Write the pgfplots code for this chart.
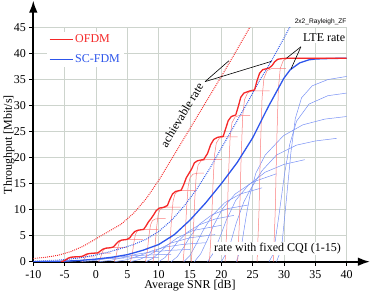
\documentclass[border=0pt]{standalone}
\usepackage{fontspec}
\setmainfont{Liberation Serif}
\newfontfamily\titlefont{Liberation Sans}
\usepackage{pgfplots}
\pgfplotsset{compat=1.18}
\usetikzlibrary{arrows.meta}
\definecolor{ofdm}{RGB}{245,40,40}
\definecolor{ofdmthin}{RGB}{250,125,125}
\definecolor{scfdm}{RGB}{45,85,235}
\definecolor{scthin}{RGB}{120,145,245}
\definecolor{gridc}{RGB}{205,212,205}
\newcommand{\fs}{\fontsize{12}{14.4}\selectfont}
\begin{document}
\begin{tikzpicture}
\useasboundingbox (-33.3pt,-30.3pt) rectangle (340.7pt,261.7pt);
\begin{axis}[
  at={(0pt,0pt)}, anchor=south west,
  scale only axis, width=313.4pt, height=234.2pt,
  xmin=-10, xmax=40, ymin=0, ymax=45,
  axis lines=left,
  axis line style={line width=1.8pt, -{Latex[length=12pt,width=8.5pt]}},
  x axis line style={shorten >=-23.3pt},
  y axis line style={shorten >=-27pt},
  xtick={-10,-5,...,40}, ytick={0,5,...,45},
  grid=major, grid style={line width=0.8pt, gridc},
  tick align=outside, major tick length=4pt,
  tick style={black, line width=1pt},
  tick label style={font=\fs},
  xticklabel style={yshift=-1.5pt},
  /pgf/number format/assume math mode=true,
  every axis x label/.style={at={(axis description cs:0.5,-0.1016)}, anchor=center, font=\fs},
  every axis y label/.style={at={(axis description cs:-0.0775,0.5)}, rotate=90, anchor=center, font=\fs},
  xlabel={Average SNR [dB]}, ylabel={Throughput [Mbit/s]},
  legend cell align=left,
  legend image code/.code={\draw[#1] (0pt,0pt) -- (23pt,0pt);},
  legend style={draw=none, fill=white, at={(axis cs:-7.8,44.2)}, anchor=north west, font=\fs, inner xsep=2pt, inner ysep=1pt, row sep=6pt},
]
\addlegendimage{ofdm, line width=0.9pt}
\addlegendentry{\textcolor{ofdm}{OFDM}}
\addlegendimage{scfdm, line width=0.9pt}
\addlegendentry{\textcolor{scfdm}{SC-FDM}}

% SC-FDM fixed CQI curves
\addplot[scthin, line width=0.5pt, forget plot] coordinates {(-5.5,0) (-3.5,0.15) (-1.5,0.35) (1,0.55) (4,0.7) (7,0.78) (10,0.82)};
\addplot[scthin, line width=0.5pt, forget plot] coordinates {(-2.5,0) (-0.5,0.2) (1.5,0.55) (3.5,0.9) (6,1.15) (9,1.32) (12,1.42)};
\addplot[scthin, line width=0.5pt, forget plot] coordinates {(0.5,0) (2.5,0.3) (4.5,0.85) (6.5,1.45) (9,1.9) (12,2.2) (15,2.35)};
\addplot[scthin, line width=0.5pt, forget plot] coordinates {(3,0) (5,0.4) (7,1.2) (9,2.1) (11,2.8) (14,3.35) (17.5,3.65)};
\addplot[scthin, line width=0.5pt, forget plot] coordinates {(5.5,0) (7,0.45) (8.5,1.3) (10,2.4) (12,3.6) (15,4.6) (19,5.2)};
\addplot[scthin, line width=0.5pt, forget plot] coordinates {(8,0) (9,0.6) (10,1.6) (11.2,3.0) (13,4.6) (15.5,6.0) (20,7.0)};
\addplot[scthin, line width=0.5pt, forget plot] coordinates {(10,0) (11,0.8) (12,2.2) (13,3.8) (14.5,5.6) (16.5,7.1) (19,8.2) (22,8.9)};
\addplot[scthin, line width=0.5pt, forget plot] coordinates {(12,0) (13,1) (14,2.8) (15,4.8) (16.5,7.2) (18.5,9.0) (21,10.2) (24.3,10.9)};
\addplot[scthin, line width=0.5pt, forget plot] coordinates {(14,0) (15,1.2) (16,3.4) (17,5.8) (18.5,8.8) (20.5,11.3) (23,13.0) (26.5,14.2)};
\addplot[scthin, line width=0.5pt, forget plot] coordinates {(15.7,0) (16.7,1.5) (17.7,4.0) (18.7,6.8) (20.2,10.2) (22.2,13) (25,15.3) (28.8,16.9)};
\addplot[scthin, line width=0.5pt, forget plot] coordinates {(17.8,0) (18.8,1.8) (19.8,4.8) (20.8,8) (22.3,11.8) (24.3,14.7) (27,17.2) (30,18.7) (33.3,19.6)};
\addplot[scthin, line width=0.5pt, forget plot] coordinates {(20,0) (21.2,2.5) (22.4,7.5) (23.6,11.5) (24.6,13.8) (26.5,17.5) (28.8,20.5) (32,22.4) (35,23.2) (38.4,23.7)};
\addplot[scthin, line width=0.5pt, forget plot] coordinates {(22.4,0) (23.2,3) (24,9) (24.6,13) (25.5,17) (27,20.5) (29.9,24.2) (33,26.3) (36.5,27.4) (40,27.9)};
\addplot[scthin, line width=0.5pt, forget plot] coordinates {(27.6,0) (28.3,1.5) (29.2,9) (30.1,17) (30.9,22.5) (32,27) (34,30.3) (37,31.9) (40,32.4)};
\addplot[scthin, line width=0.5pt, forget plot] coordinates {(28.8,0) (29.6,2.5) (30.3,11) (31.1,21) (31.8,27.5) (32.8,31.5) (34.5,33.8) (37,35) (40,35.6)};

% OFDM fixed CQI curves
\addplot[ofdmthin, line width=0.5pt, forget plot] coordinates {(-5.2,0) (-4.9,0.24) (-4.65,0.57) (-4.4,0.81) (-4.1,0.9) (-3.6,0.94) (-2.9,0.95) (-0.2,0.95)};
\addplot[ofdmthin, line width=0.5pt, forget plot] coordinates {(-2.2,0) (-1.9,0.41) (-1.65,0.99) (-1.4,1.4) (-1.1,1.57) (-0.6,1.63) (0.1,1.65) (2.4,1.65)};
\addplot[ofdmthin, line width=0.5pt, forget plot] coordinates {(0.4,0) (0.7,0.68) (0.95,1.62) (1.2,2.3) (1.5,2.57) (2.0,2.67) (2.7,2.7) (4.9,2.7)};
\addplot[ofdmthin, line width=0.5pt, forget plot] coordinates {(2.9,0) (3.2,1.08) (3.45,2.58) (3.7,3.66) (4.0,4.09) (4.5,4.26) (5.2,4.3) (7.5,4.3)};
\addplot[ofdmthin, line width=0.5pt, forget plot] coordinates {(5.5,0) (5.8,1.55) (6.05,3.72) (6.3,5.27) (6.6,5.89) (7.1,6.14) (7.8,6.2) (9.9,6.2)};
\addplot[ofdmthin, line width=0.5pt, forget plot] coordinates {(7.9,0) (8.2,2.08) (8.45,4.98) (8.7,7.06) (9.0,7.89) (9.5,8.22) (10.2,8.3) (11.1,8.3)};
\addplot[ofdmthin, line width=0.5pt, forget plot] coordinates {(9.1,0) (9.4,2.63) (9.65,6.3) (9.9,8.93) (10.2,9.98) (10.7,10.4) (11.4,10.5) (13.5,10.5)};
\addplot[ofdmthin, line width=0.5pt, forget plot] coordinates {(11.5,0) (11.8,3.43) (12.05,8.22) (12.3,11.65) (12.6,13.0) (13.1,13.56) (13.8,13.7) (15.9,13.7)};
\addplot[ofdmthin, line width=0.5pt, forget plot] coordinates {(13.9,0) (14.2,4.25) (14.45,10.2) (14.7,14.45) (15.0,16.15) (15.5,16.83) (16.2,17.0) (17.2,17.0)};
\addplot[ofdmthin, line width=0.5pt, forget plot] coordinates {(15.2,0) (15.5,4.9) (15.75,11.76) (16.0,16.66) (16.3,18.62) (16.8,19.4) (17.5,19.6) (20.1,19.6)};
\addplot[ofdmthin, line width=0.5pt, forget plot] coordinates {(18.1,0) (18.4,6.0) (18.65,14.4) (18.9,20.4) (19.2,22.8) (19.7,23.76) (20.4,24.0) (22.6,24.0)};
\addplot[ofdmthin, line width=0.5pt, forget plot] coordinates {(20.6,0) (20.9,7.03) (21.15,16.86) (21.4,23.89) (21.7,26.7) (22.2,27.82) (22.9,28.1) (24.6,28.1)};
\addplot[ofdmthin, line width=0.5pt, forget plot] coordinates {(22.6,0) (22.9,8.2) (23.15,19.68) (23.4,27.88) (23.7,31.16) (24.2,32.47) (24.9,32.8) (27.7,32.8)};
\addplot[ofdmthin, line width=0.5pt, forget plot] coordinates {(25.7,0) (26.0,9.28) (26.25,22.26) (26.5,31.54) (26.8,35.25) (27.3,36.73) (28.0,37.1) (30.3,37.1)};
\addplot[ofdmthin, line width=0.5pt, forget plot] coordinates {(28.3,0) (28.6,9.78) (28.85,23.46) (29.1,33.24) (29.4,37.15) (29.9,38.71) (30.6,39.1) (40,39.1)};

% achievable rates
\addplot[ofdm, line width=1pt, dash pattern=on 0.9pt off 1.1pt, forget plot] coordinates {(-10,0.6) (-8,0.85) (-6,1.25) (-4,1.95) (-2,3.0) (0,4.4) (2,5.8) (4,7.2) (6,9.3) (8,12.1) (10,15.6) (12,19.6) (14,23.6) (16,27.6) (18,31.6) (20,35.6) (22,39.7) (24,43.9) (25,46)};
\addplot[scfdm, line width=1pt, dash pattern=on 0.9pt off 1.1pt, forget plot] coordinates {(-10,0.12) (-8,0.2) (-6,0.32) (-4,0.52) (-2,0.85) (0,1.3) (2,1.85) (4,2.55) (6,3.3) (8,4.3) (10,5.8) (12,7.9) (14,10.6) (16,13.8) (18,17.6) (20,21.8) (22,26.0) (24,30.2) (26,34.6) (28,38.6) (30,43.0) (32,47.5)};

% LTE rates
\addplot[scfdm, line width=1.3pt, forget plot] coordinates {(-10,0) (-7.5,0.03) (-5,0.1) (-2.5,0.25) (0,0.5) (2.5,0.85) (5,1.35) (7.5,2.2) (10,3.3) (12.5,5.2) (15,8.0) (17.5,11.3) (20,15.0) (22.5,19.0) (25,23.8) (27.5,29.8) (30,35.3) (31,36.9) (32.5,38.2) (34,38.8) (35,38.95) (37.5,39.05) (40,39.1)};
\addplot[ofdm, line width=1.3pt, forget plot] coordinates {(-5.6,0) (-5.2,0.12) (-4.8,0.38) (-4.4,0.68) (-4.0,0.84) (-3.5,0.92) (-2.8,0.95) (-2.3,1.0) (-1.9,1.2) (-1.5,1.45) (-1.0,1.58) (-0.3,1.64) (0.3,1.7) (0.7,2.05) (1.1,2.4) (1.6,2.6) (2.3,2.68) (2.8,2.85) (3.2,3.4) (3.6,3.9) (4.1,4.15) (4.9,4.27) (5.4,4.6) (5.8,5.3) (6.2,5.8) (6.7,6.05) (7.6,6.2) (8.0,6.9) (8.4,7.7) (8.8,8.3) (9.2,9.0) (9.6,9.8) (10.1,10.3) (10.8,10.45) (11.4,10.8) (11.8,12.0) (12.2,13.0) (12.7,13.5) (13.6,13.75) (14.0,14.8) (14.4,16.1) (14.8,16.9) (15.3,17.9) (15.7,19.0) (16.2,19.4) (17.2,19.65) (17.8,20.8) (18.3,22.5) (18.8,23.5) (19.4,23.9) (20.3,24.1) (20.7,25.6) (21.1,27.1) (21.6,27.9) (22.3,28.2) (22.7,29.8) (23.1,31.6) (23.6,32.4) (24.5,32.8) (25.3,33.0) (25.7,34.8) (26.1,36.2) (26.6,36.9) (27.6,37.2) (28.1,37.7) (28.5,38.4) (29.0,38.9) (29.8,39.05) (31,39.1) (40,39.1)};

% annotations
\node[rotate=59, font=\fs] at (axis cs:13.7,28.2) {achievable rate};
\draw[black, line width=0.6pt] (axis cs:17.4,34.6) -- (axis cs:21.2,38.6);
\draw[black, line width=0.6pt] (axis cs:17.4,34.6) -- (axis cs:28.0,38.5);
\node[font=\fs, fill=white, inner sep=1pt] at (axis cs:36.4,43.0) {LTE rate};
\draw[black, line width=0.6pt] (axis cs:32.7,41.3) -- (axis cs:30.4,39.1);
\draw[black, line width=0.6pt] (axis cs:32.7,41.3) -- (axis cs:31.1,37.0);
\node[font=\fs, fill=white, inner sep=1pt] at (axis cs:28.95,2.6) {rate with fixed CQI (1-15)};
\end{axis}
\node[anchor=base east, inner sep=0pt, font=\titlefont\fontsize{6.6}{8}\selectfont] at (313.4pt,237.7pt) {2x2\_Rayleigh\_ZF};
\end{tikzpicture}
\end{document}
